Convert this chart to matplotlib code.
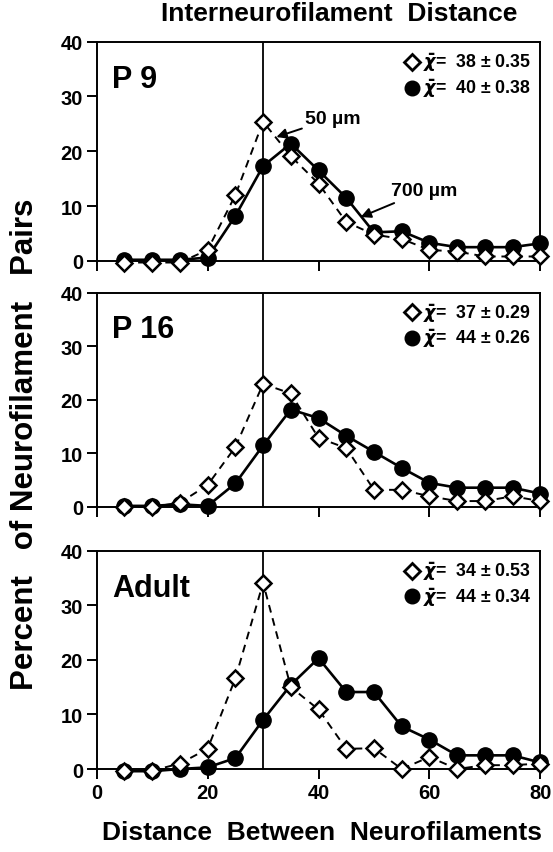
import numpy as np
import matplotlib
matplotlib.use("Agg")
import matplotlib.pyplot as plt

plt.rcParams['font.family'] = ['Liberation Sans', 'DejaVu Sans']
plt.rcParams['font.weight'] = 'bold'

distance = np.arange(5, 85, 5)

panel_names = ["P 9", "P 16", "Adult"]

# 50 um (open diamonds, dashed)
p9_50 = [-0.3, -0.3, -0.3, 2.0, 12.0, 25.4, 19.1, 14.1, 7.1, 4.8, 4.0, 2.0, 1.7, 0.8, 0.8, 0.8]
p16_50 = [0.0, 0.0, 0.8, 4.1, 11.2, 23.0, 21.2, 12.9, 11.0, 3.2, 3.2, 2.0, 1.1, 1.1, 2.0, 1.1]
adult_50 = [-0.3, -0.3, 1.0, 3.7, 16.6, 34.1, 15.0, 10.9, 3.7, 3.8, 0.0, 2.2, 0.0, 0.7, 0.7, 1.0]

# 700 um (filled circles, solid)
p9_700 = [0.2, 0.2, 0.2, 0.6, 8.2, 17.3, 21.4, 16.5, 11.5, 5.2, 5.4, 3.3, 2.5, 2.5, 2.5, 3.2]
p16_700 = [0.2, 0.2, 0.5, 0.2, 4.4, 11.5, 18.2, 16.6, 13.3, 10.3, 7.3, 4.5, 3.6, 3.6, 3.6, 2.5]
adult_700 = [-0.4, -0.4, 0.0, 0.3, 2.0, 9.0, 15.4, 20.3, 14.1, 14.1, 7.8, 5.4, 2.5, 2.5, 2.5, 1.2]

means_50 = ["38 ± 0.35", "37 ± 0.29", "34 ± 0.53"]
means_700 = ["40 ± 0.38", "44 ± 0.26", "44 ± 0.34"]

series_50 = [p9_50, p16_50, adult_50]
series_700 = [p9_700, p16_700, adult_700]

fig = plt.figure(figsize=(5.53, 8.53), dpi=100)
boxes = [[0.175, 0.693, 0.802, 0.257],
         [0.175, 0.4045, 0.802, 0.251],
         [0.175, 0.0973, 0.802, 0.256]]

axes = []
for i, box in enumerate(boxes):
    ax = fig.add_axes(box)
    axes.append(ax)
    ax.axvline(30, color='black', lw=1.3, zorder=1)
    ax.plot(distance, series_700[i], '-', color='black', lw=1.9,
            marker='o', ms=11, mfc='black', mec='black', clip_on=False, zorder=3)
    ax.plot(distance, series_50[i], '--', color='black', lw=1.4, dashes=(4, 3),
            marker='D', ms=8, mfc='white', mec='black', mew=1.8, clip_on=False, zorder=4)
    ax.set_xlim(0, 80)
    ax.set_ylim(0, 40)
    ax.set_xticks([0, 20, 40, 60, 80])
    ax.set_yticks([0, 10, 20, 30, 40])
    ax.tick_params(direction='out', length=7, width=1.4, labelsize=14.5, pad=3)
    for s in ax.spines.values():
        s.set_linewidth(1.4)
    if i < 2:
        ax.set_xticklabels([])
    for lab in ax.get_xticklabels() + ax.get_yticklabels():
        lab.set_fontweight('bold')
    ax.text(0.034, 0.83, panel_names[i], transform=ax.transAxes,
            fontsize=22, fontweight='bold', va='center', ha='left')
    ax.plot([0.711], [0.909], transform=ax.transAxes, marker='D', ms=8.5,
            mfc='white', mec='black', mew=2.0, clip_on=False)
    ax.plot([0.711], [0.79], transform=ax.transAxes, marker='o', ms=10.5,
            color='black', clip_on=False)
    ax.text(0.735, 0.909, r"$\bar{\chi}$=  " + means_50[i], transform=ax.transAxes,
            fontsize=12.8, fontweight='bold', va='center', ha='left')
    ax.text(0.735, 0.79, r"$\bar{\chi}$=  " + means_700[i], transform=ax.transAxes,
            fontsize=12.8, fontweight='bold', va='center', ha='left')

axes[0].annotate("50 µm", xy=(32.4, 22.6), xytext=(37.5, 26),
                 fontsize=14, fontweight='bold', va='center', ha='left',
                 arrowprops=dict(arrowstyle='-|>', color='black', lw=1.4,
                                 shrinkA=0, shrinkB=0, mutation_scale=15))
axes[0].annotate("700 µm", xy=(47.6, 8.0), xytext=(53, 12.8),
                 fontsize=14, fontweight='bold', va='center', ha='left',
                 arrowprops=dict(arrowstyle='-|>', color='black', lw=1.4,
                                 shrinkA=2, shrinkB=0, mutation_scale=15))

fig.text(0.613, 0.984, "Interneurofilament  Distance", ha='center', va='center',
         fontsize=19, fontweight='bold')
fig.text(0.582, 0.023, "Distance  Between  Neurofilaments", ha='center', va='center',
         fontsize=19, fontweight='bold')
fig.text(0.046, 0.479, "Percent   of Neurofilament   Pairs", ha='center', va='center',
         rotation=90, fontsize=22.5, fontweight='bold')

fig.savefig("out.png", dpi=100)
